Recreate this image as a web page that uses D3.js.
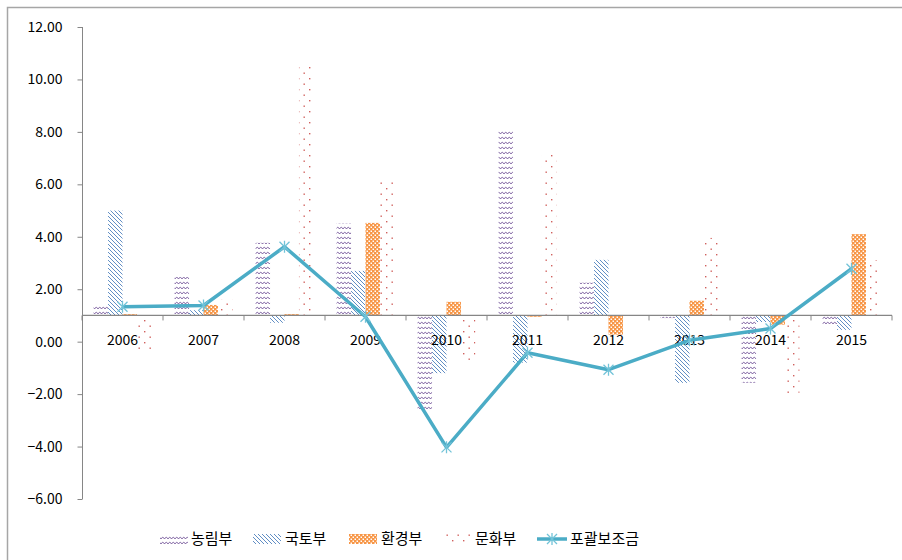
<!DOCTYPE html>
<html>
<head>
<meta charset="utf-8">
<script src="https://cdn.jsdelivr.net/npm/d3@7"></script>
<style>
  body { margin: 0; background: #fff; }
  text { font-family: "Noto Sans CJK KR", "Noto Sans", sans-serif; fill: #000; }
</style>
</head>
<body>
<div id="chart"></div>
<script>
// 부처별 증감률 + 포괄보조금
const years = ["2006", "2007", "2008", "2009", "2010", "2011", "2012", "2013", "2014", "2015"];
const series = ["농림부", "국토부", "환경부", "문화부"];
const agri    = [1.35, 2.47, 3.77, 4.5, -2.6, 8.08, 2.25, 0.9, -1.57, 0.6];
const land    = [5.0, 1.2, 0.72, 2.7, -1.2, -0.8, 3.12, -1.57, 0.75, 0.45];
const env     = [1.05, 1.4, 1.05, 4.53, 1.52, 0.95, 0.27, 1.56, 0.65, 4.1];
const culture = [-0.3, 1.6, 10.48, 6.1, -0.77, 7.2, 0.95, 3.96, -2.02, 3.1];
const block   = [1.33, 1.38, 3.62, 0.95, -4.03, -0.42, -1.07, 0.05, 0.5, 2.78];
const yTicks  = [-6, -4, -2, 0, 2, 4, 6, 8, 10, 12];
const baseline = 1;

const barValues = [agri, land, env, culture];
const patternIds = ["p-agri", "p-land", "p-env", "p-cult"];

const width = 902, height = 560;
const svg = d3.select("#chart").append("svg")
  .attr("width", width).attr("height", height);

// patterns
const defs = svg.append("defs");
const pa = defs.append("pattern").attr("id", "p-agri")
  .attr("patternUnits", "userSpaceOnUse").attr("width", 7).attr("height", 5);
pa.append("path").attr("d", "M0,4 Q1.75,0.6 3.5,4 Q5.25,0.6 7,4")
  .attr("fill", "none").attr("stroke", "#8064A2").attr("stroke-width", 1);

const pl = defs.append("pattern").attr("id", "p-land")
  .attr("patternUnits", "userSpaceOnUse").attr("width", 4).attr("height", 4);
pl.append("path").attr("d", "M-1,-1L5,5M-1,3L1,5M3,-1L5,1")
  .attr("stroke", "#4F81BD").attr("stroke-width", 0.9);

const pe = defs.append("pattern").attr("id", "p-env")
  .attr("patternUnits", "userSpaceOnUse").attr("width", 4).attr("height", 4);
pe.append("rect").attr("width", 4).attr("height", 4).attr("fill", "#F79646");
pe.append("rect").attr("x", 0.5).attr("y", 0.5).attr("width", 1.5).attr("height", 1.5).attr("fill", "#fff");
pe.append("rect").attr("x", 2.5).attr("y", 2.5).attr("width", 1.5).attr("height", 1.5).attr("fill", "#fff");

const pc = defs.append("pattern").attr("id", "p-cult")
  .attr("patternUnits", "userSpaceOnUse").attr("width", 11).attr("height", 11);
pc.append("rect").attr("x", 1).attr("y", 1).attr("width", 1.4).attr("height", 1.4).attr("fill", "#D0605D");
pc.append("rect").attr("x", 6.5).attr("y", 6.5).attr("width", 1.4).attr("height", 1.4).attr("fill", "#D0605D");

// frame
svg.append("path").attr("d", "M7.5,560V7.5H902")
  .attr("fill", "none").attr("stroke", "#A6A6A6").attr("stroke-width", 1.5);

const x = d3.scaleBand().domain(years).range([82, 892]);
const xs = d3.scaleBand().domain(series).range([0, x.bandwidth()]).paddingOuter(0.8);
const y = d3.scaleLinear().domain([-6, 12]).range([499, 27]);

// y axis
const yAxis = svg.append("g").attr("transform", "translate(82.5,0)")
  .call(d3.axisLeft(y).tickValues(yTicks).tickFormat(d3.format(".2f"))
    .tickSize(5).tickPadding(15));
yAxis.select(".domain").attr("stroke", "#868686").attr("d", `M0,${y(12)}V${y(-6)}`);
yAxis.selectAll(".tick line").attr("stroke", "#868686");
yAxis.selectAll("text").attr("font-size", 14).attr("fill", "#000");

// bars
series.forEach((s, i) => {
  svg.append("g").selectAll("rect")
    .data(years.map((yr, j) => ({ yr, v: barValues[i][j] })))
    .enter().append("rect")
    .attr("x", d => x(d.yr) + xs(s))
    .attr("width", xs.bandwidth())
    .attr("y", d => Math.min(y(d.v), y(baseline)))
    .attr("height", d => Math.abs(y(d.v) - y(baseline)))
    .attr("fill", `url(#${patternIds[i]})`);
});

// category axis crossing at 1.0
const xAxis = svg.append("g").attr("transform", `translate(0,${y(baseline)})`);
xAxis.append("path").attr("d", "M82,0H892").attr("stroke", "#868686").attr("stroke-width", 1.2);
xAxis.selectAll("line").data(d3.range(years.length + 1)).enter().append("line")
  .attr("x1", i => 82 + i * x.step()).attr("x2", i => 82 + i * x.step())
  .attr("y1", 0).attr("y2", 5).attr("stroke", "#868686");
xAxis.selectAll("text").data(years).enter().append("text")
  .attr("x", d => x(d) + x.bandwidth() / 2).attr("y", 30)
  .attr("text-anchor", "middle").attr("font-size", 14).text(d => d);

// line
const line = d3.line().x((d, i) => x(years[i]) + x.bandwidth() / 2).y(d => y(d));
svg.append("path").datum(block).attr("d", line)
  .attr("fill", "none").attr("stroke", "#4BACC6").attr("stroke-width", 3.5)
  .attr("stroke-linejoin", "round");
const star = "M-5,-5L5,5M-5,5L5,-5M0,-6V6";
svg.append("g").selectAll("path").data(block).enter().append("path")
  .attr("transform", (d, i) => `translate(${x(years[i]) + x.bandwidth() / 2},${y(d)})`)
  .attr("d", star).attr("stroke", "#72C3D8").attr("stroke-width", 1.3).attr("fill", "none");

// legend
const legendY = 539;
const legendItems = [
  { name: "농림부", sx: 160, tx: 191 },
  { name: "국토부", sx: 253, tx: 285 },
  { name: "환경부", sx: 349, tx: 381 },
  { name: "문화부", sx: 443, tx: 475 }
];
const lg = svg.append("g");
legendItems.forEach((d, i) => {
  lg.append("rect").attr("x", d.sx).attr("y", legendY - 5).attr("width", 28).attr("height", 10)
    .attr("fill", `url(#${patternIds[i]})`);
  lg.append("text").attr("x", d.tx).attr("y", legendY + 5).attr("font-size", 15).text(d.name);
});
lg.append("line").attr("x1", 537).attr("x2", 567).attr("y1", legendY).attr("y2", legendY)
  .attr("stroke", "#4BACC6").attr("stroke-width", 3.5);
lg.append("path").attr("transform", `translate(552,${legendY})`).attr("d", star)
  .attr("stroke", "#72C3D8").attr("stroke-width", 1.3).attr("fill", "none");
lg.append("text").attr("x", 570).attr("y", legendY + 5).attr("font-size", 15).text("포괄보조금");
</script>
</body>
</html>
